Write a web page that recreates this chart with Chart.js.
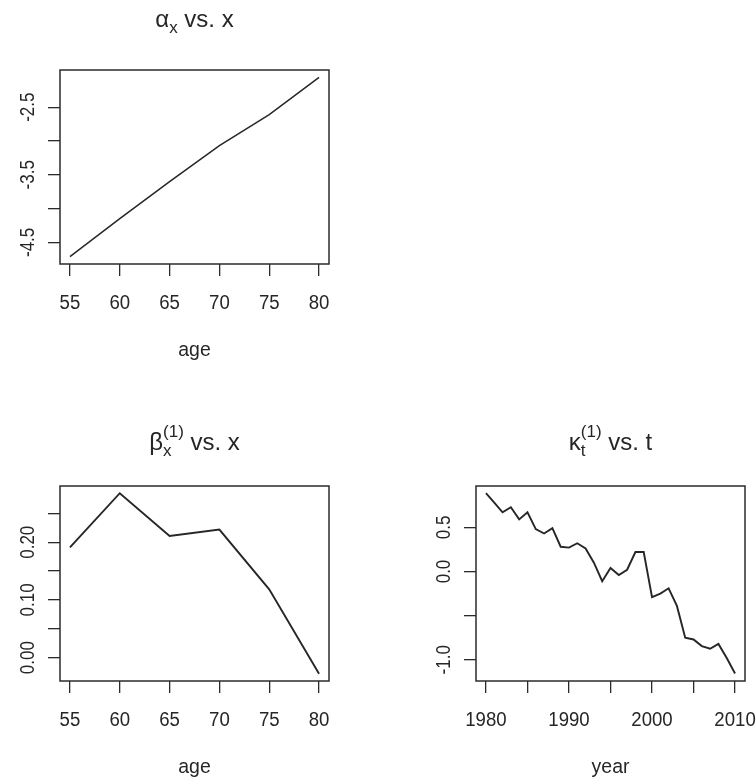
<!DOCTYPE html>
<html><head><meta charset="utf-8">
<script src="https://cdn.jsdelivr.net/npm/chart.js@4.4.0/dist/chart.umd.min.js"></script>
<style>
html,body{margin:0;padding:0;background:#fff;}
#wrap{position:relative;width:756px;height:780px;overflow:hidden;background:#fff;}
.pan{position:absolute;width:378px;height:390px;}
canvas{display:block;}
</style></head><body>
<div id="wrap">
<div class="pan" style="left:0;top:0"><canvas id="c1" width="378" height="390"></canvas></div>
<div class="pan" style="left:0;top:390px"><canvas id="c2" width="378" height="390"></canvas></div>
<div class="pan" style="left:378px;top:390px"><canvas id="c3" width="378" height="390"></canvas></div>
</div>
<script>
// ---- data ----
const ages = [55, 60, 65, 70, 75, 80];
const alphaX = [-4.71, -4.15, -3.60, -3.07, -2.61, -2.06];
const betaX = [0.191, 0.285, 0.211, 0.222, 0.1185, -0.028];
const years = [1980,1981,1982,1983,1984,1985,1986,1987,1988,1989,1990,1991,1992,1993,1994,1995,1996,1997,1998,1999,2000,2001,2002,2003,2004,2005,2006,2007,2008,2009,2010];
const kappaT = [0.886,0.78,0.67,0.727,0.59,0.67,0.48,0.43,0.49,0.28,0.27,0.32,0.26,0.10,-0.11,0.04,-0.04,0.02,0.22,0.22,-0.29,-0.25,-0.19,-0.39,-0.75,-0.77,-0.845,-0.875,-0.82,-0.98,-1.155];

// ---- ticks and labels ----
const ageTicks = [55, 60, 65, 70, 75, 80];
const ageLabels = ["55", "60", "65", "70", "75", "80"];
const yearTicks = [1980, 1985, 1990, 1995, 2000, 2005, 2010];
const yearLabels = ["1980", "1990", "2000", "2010"];
const alphaTicks = [-4.5, -4, -3.5, -3, -2.5];
const alphaLabels = ["-4.5", "-3.5", "-2.5"];
const betaTicks = [0, 0.05, 0.1, 0.15, 0.2, 0.25];
const betaLabels = ["0.00", "0.10", "0.20"];
const kappaTicks = [-1, -0.5, 0, 0.5];
const kappaLabels = ["-1.0", "0.0", "0.5"];

const FONT = '"Liberation Sans", Arial, sans-serif';
const INK = '#262626';

function txt(ctx, s, x, y, size, align, sx) {
  ctx.save();
  ctx.font = size + 'px ' + FONT;
  ctx.translate(x, y);
  ctx.scale(sx, 1);
  ctx.textAlign = align;
  ctx.textBaseline = 'alphabetic';
  ctx.fillText(s, 0, 0);
  ctx.restore();
}
function tw(ctx, s, size) { ctx.font = size + 'px ' + FONT; return ctx.measureText(s).width; }

const rdeco = {
  id: 'rdeco',
  afterDraw(chart, args, o) {
    const ctx = chart.ctx, a = chart.chartArea, xs = chart.scales.x, ys = chart.scales.y;
    ctx.save();
    ctx.strokeStyle = '#2b2b2b'; ctx.lineWidth = 1.5;
    ctx.strokeRect(a.left, a.top, a.right - a.left, a.bottom - a.top);
    ctx.fillStyle = INK;
    o.xLabels.forEach(s => txt(ctx, s, xs.getPixelForValue(parseFloat(s)), a.bottom + 45, 20, 'center', 0.93));
    o.yLabels.forEach(s => {
      const y = ys.getPixelForValue(parseFloat(s));
      ctx.save(); ctx.translate(a.left - 26.5, y); ctx.rotate(-Math.PI / 2);
      txt(ctx, s, 0, 0, 20, 'center', 0.85);
      ctx.restore();
    });
    txt(ctx, o.xTitle, (a.left + a.right) / 2, a.bottom + 92, 20.5, 'center', 0.95);
    // main title with sub/superscripts
    const F = 24, S = 17, cx = (a.left + a.right) / 2, base = a.top - o.titleOff;
    const wM = tw(ctx, o.main, F), wSub = tw(ctx, o.sub, S), wSup = o.sup ? tw(ctx, o.sup, S) : 0;
    const wS = Math.max(wSub, wSup), wR = tw(ctx, o.rest, F);
    const x0 = cx - (wM + wS + wR) / 2;
    txt(ctx, o.main, x0, base, F, 'left', 1);
    txt(ctx, o.sub, x0 + wM, base + 6, S, 'left', 1);
    if (o.sup) txt(ctx, o.sup, x0 + wM, base - 13, S, 'left', 1);
    txt(ctx, o.rest, x0 + wM + wS, base, F, 'left', 1);
    ctx.restore();
  }
};

function mk(id, xv, yv, o) {
  const grid = {drawOnChartArea: false, drawTicks: true, tickLength: 12, color: '#2b2b2b', lineWidth: 1.3};
  return new Chart(document.getElementById(id), {
    type: 'line',
    data: {datasets: [{data: xv.map((x, i) => ({x: x, y: yv[i]})), borderColor: INK, borderWidth: o.lw,
      pointRadius: 0, tension: 0, fill: false}]},
    options: {
      responsive: false, animation: false, devicePixelRatio: 1,
      layout: {padding: {left: 0, top: o.padT, right: o.padR, bottom: 0}},
      plugins: {legend: {display: false}, tooltip: {enabled: false}, title: {display: false},
        rdeco: {xLabels: o.xLabels, yLabels: o.yLabels, xTitle: o.xTitle, main: o.main, sub: o.sub, sup: o.sup, rest: o.rest, titleOff: o.titleOff}},
      scales: {
        x: {type: 'linear', min: o.xmin, max: o.xmax,
          afterBuildTicks: s => { s.ticks = o.xTicks.map(v => ({value: v})); },
          afterFit: s => { s.height = o.xH; },
          ticks: {display: false}, grid: grid, border: {display: false}},
        y: {type: 'linear', min: o.ymin, max: o.ymax,
          afterBuildTicks: s => { s.ticks = o.yTicks.map(v => ({value: v})); },
          afterFit: s => { s.width = o.yW; },
          ticks: {display: false}, grid: grid, border: {display: false}}
      }
    },
    plugins: [rdeco]
  });
}

mk('c1', ages, alphaX, {lw: 1.5, padT: 70, padR: 49, xH: 126, yW: 60, xmin: 54, xmax: 81, ymin: -4.82, ymax: -1.95,
  xTicks: ageTicks, yTicks: alphaTicks, xLabels: ageLabels, yLabels: alphaLabels, xTitle: 'age',
  main: '\u03B1', sub: 'x', sup: null, rest: ' vs. x', titleOff: 43});
mk('c2', ages, betaX, {lw: 1.9, padT: 96, padR: 49, xH: 99, yW: 60, xmin: 54, xmax: 81, ymin: -0.0405, ymax: 0.2975,
  xTicks: ageTicks, yTicks: betaTicks, xLabels: ageLabels, yLabels: betaLabels, xTitle: 'age',
  main: '\u03B2', sub: 'x', sup: '(1)', rest: ' vs. x', titleOff: 36});
mk('c3', years, kappaT, {lw: 1.9, padT: 96, padR: 11, xH: 99, yW: 98, xmin: 1978.8, xmax: 2011.2, ymin: -1.24, ymax: 0.968,
  xTicks: yearTicks, yTicks: kappaTicks, xLabels: yearLabels, yLabels: kappaLabels, xTitle: 'year',
  main: '\u03BA', sub: 't', sup: '(1)', rest: ' vs. t', titleOff: 36});
</script>
</body></html>
